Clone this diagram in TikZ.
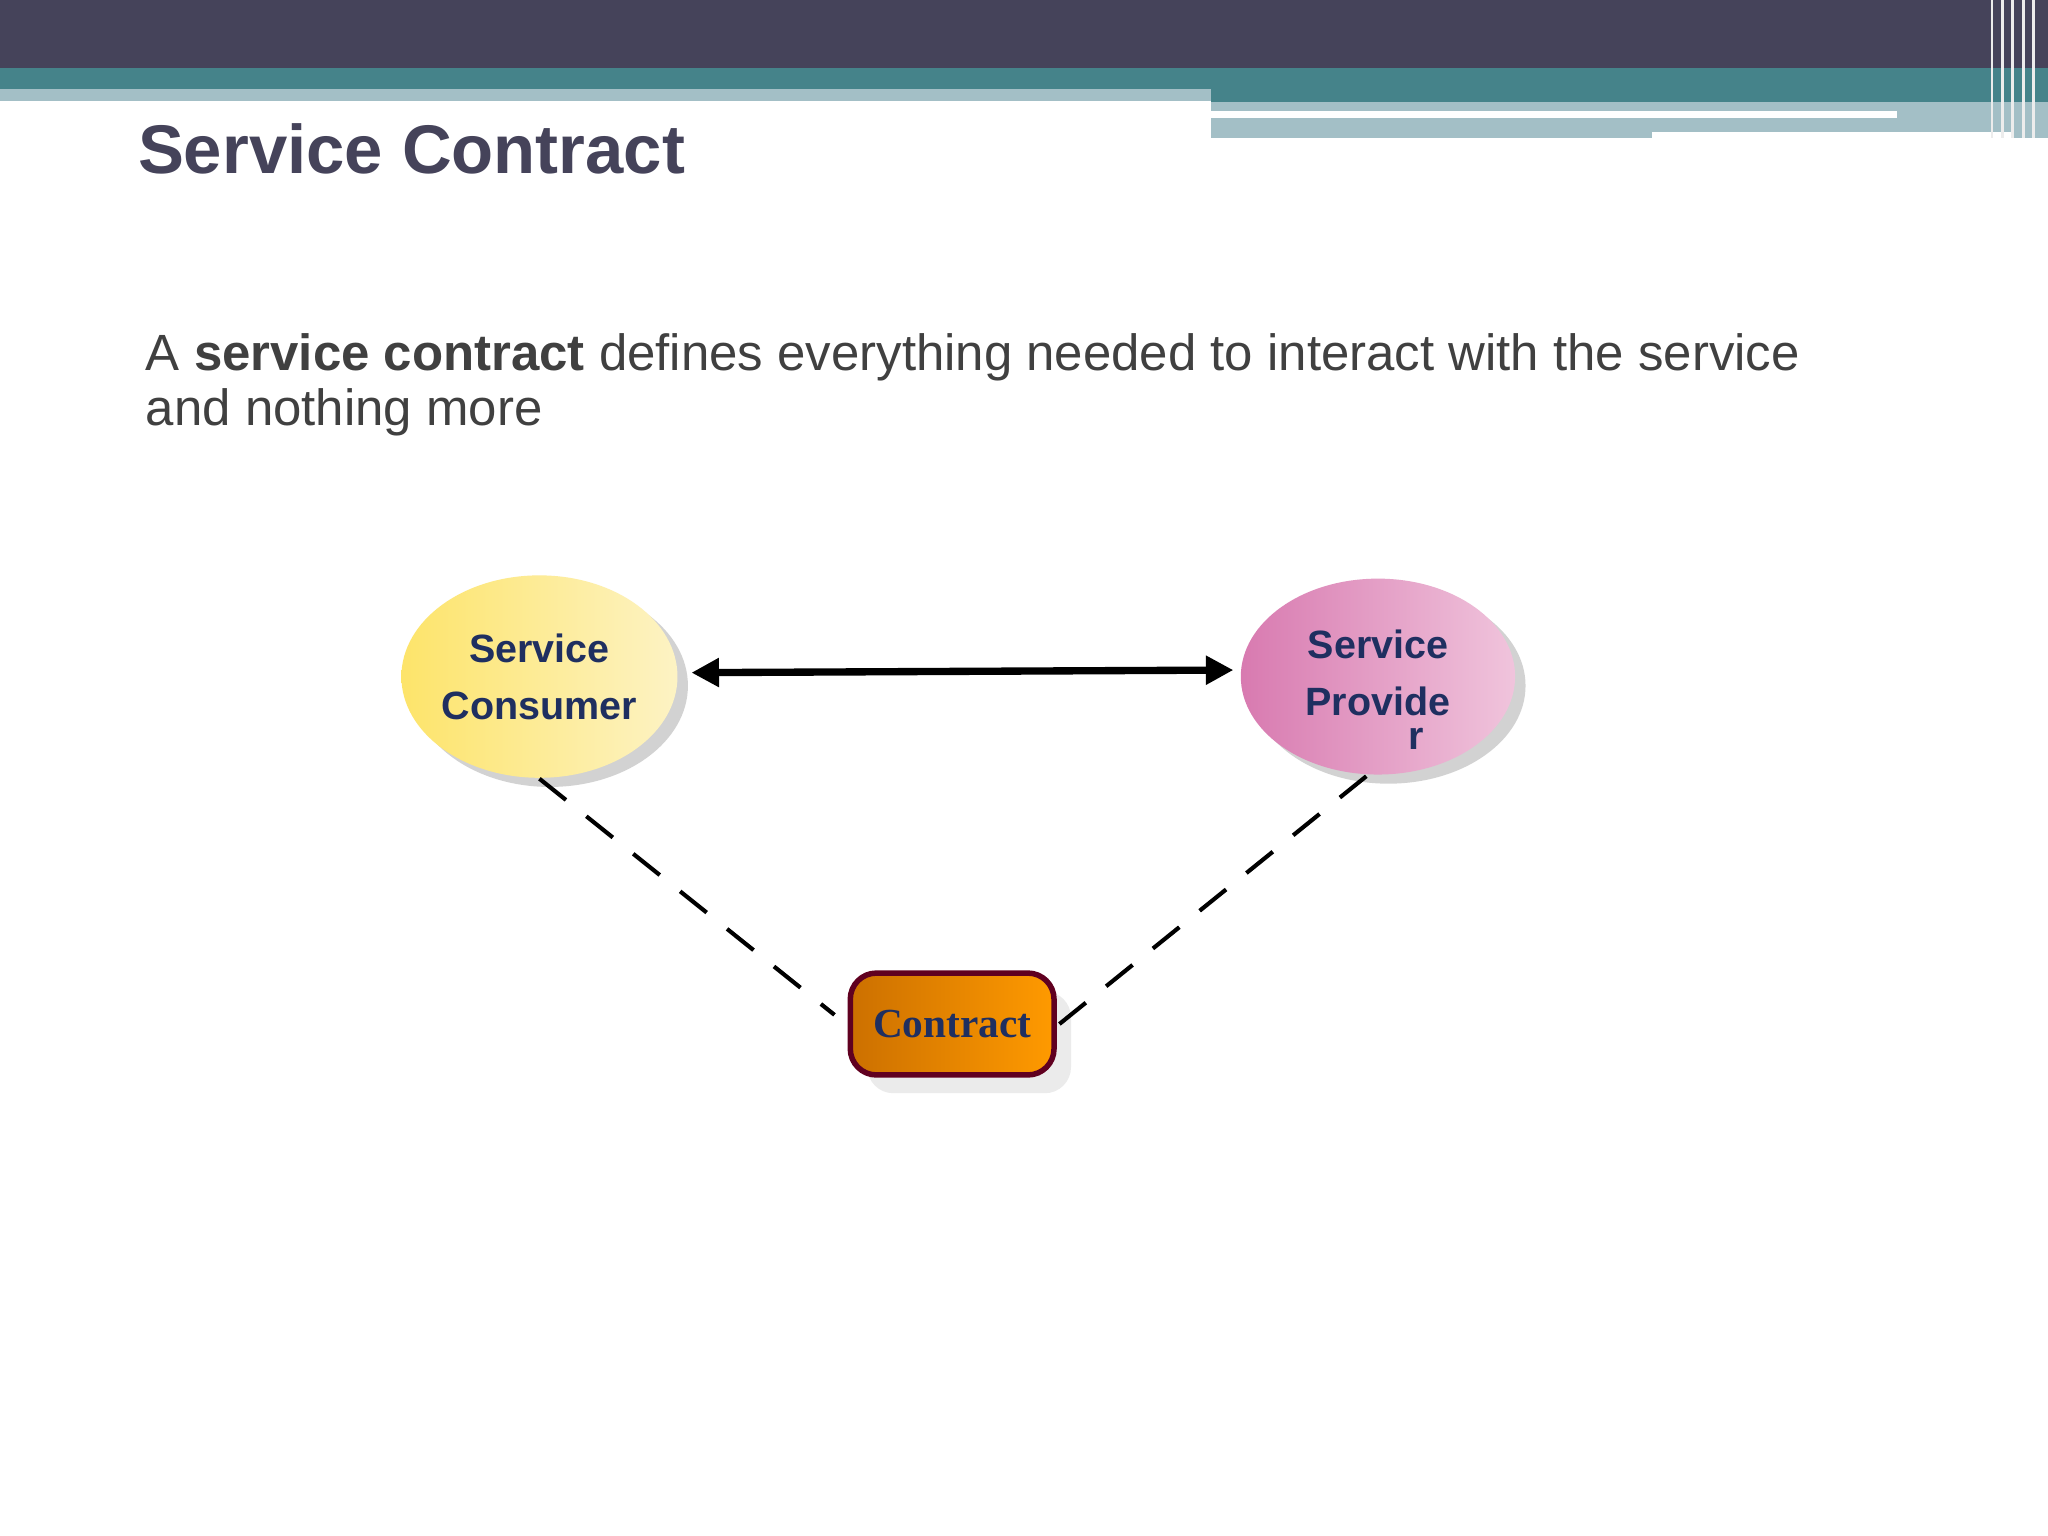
\documentclass[tikz,border=0pt]{standalone}
\usepackage{fontspec}
\setmainfont{Liberation Sans}
\newfontfamily\serifb{Liberation Serif}
\usetikzlibrary{arrows.meta,shadows,shapes.geometric}
\definecolor{hdark}{HTML}{45435A}
\definecolor{hteal}{HTML}{45838A}
\definecolor{hlight}{HTML}{A3BFC6}
\definecolor{ntext}{HTML}{1F2F60}
\definecolor{cyel1}{HTML}{FDE46A}
\definecolor{cyel2}{HTML}{FDF3C4}
\definecolor{cpink1}{HTML}{D87AB0}
\definecolor{cpink2}{HTML}{F0C4DC}
\definecolor{cor1}{HTML}{CC7000}
\definecolor{cor2}{HTML}{FF9A00}
\begin{document}
\begin{tikzpicture}[x=0.1mm,y=-0.1mm,
  ell/.style={ellipse,minimum width=21mm,minimum height=15.5mm,inner sep=0,
     font=\fontsize{8.6pt}{12.5pt}\selectfont\bfseries,text=ntext,align=center,
     drop shadow={shadow xshift=0.8mm,shadow yshift=-0.7mm,fill=gray!70}},
  dashln/.style={dash pattern=on 2.6mm off 2mm,line width=0.9pt}]
\useasboundingbox (0,0) rectangle (1568,1176);
\fill[white] (0,0) rectangle (1568,1176);
\fill[hdark] (0,0) rectangle (1568,52);
\fill[hteal] (0,52) rectangle (1568,68);
\fill[hlight] (0,68) rectangle (927,77);
\fill[hteal] (927,68) rectangle (1568,78);
\fill[hlight] (927,78) rectangle (1568,106);
\fill[white] (927,85) rectangle (1452,90);
\fill[white] (1265,101) rectangle (1540,106);
\foreach \x in {1524,1532,1540,1548,1556}{\fill[white!85!gray] (\x,0) rectangle (\x+2,106);}
\node[anchor=base west,inner sep=0,text=hdark,font=\fontsize{15pt}{18pt}\selectfont\bfseries] (title) at (105,133) {Service Contract};
\node[anchor=base west,inner sep=0,text=black!75,align=left,font=\fontsize{11.1pt}{12.1pt}\selectfont] (body) at (111,326)
 {A \textbf{service contract} defines everything needed to interact with the service\\and nothing more};
\node[ell,left color=cyel1,right color=cyel2] (cons) at (413,518) {Service\\Consumer};
\node[ell,left color=cpink1,right color=cpink2,minimum height=15mm] (prov) at (1055,518) {};
\node[text=ntext,font=\fontsize{8.6pt}{12.5pt}\selectfont\bfseries,align=center] (provt) at (1055,528) {Service\\Provide\\[-5pt]\hspace*{5.8mm}r};
\node[draw=black!50!purple,line width=1.2pt,rounded corners=2mm,left color=cor1,right color=cor2,
   minimum width=15.6mm,minimum height=7.8mm,text=ntext,font=\serifb\fontsize{9pt}{10pt}\selectfont\bfseries,
   drop shadow={shadow xshift=1.3mm,shadow yshift=-1.4mm,fill=gray!30}] (contr) at (729,784) {Contract};
\draw[line width=1.6pt,{Triangle[length=6pt,width=6pt]}-{Triangle[length=6pt,width=6pt]}] ([shift={(10,-3)}]cons.east) -- ([shift={(-5,-5)}]prov.west);
\draw[dashln] (cons.south) -- ([shift={(-10,-7)}]contr.west);
\draw[dashln] ([shift={(2,0)}]contr.east) -- ([shift={(-2,-5)}]prov.south);
\end{tikzpicture}
\end{document}
